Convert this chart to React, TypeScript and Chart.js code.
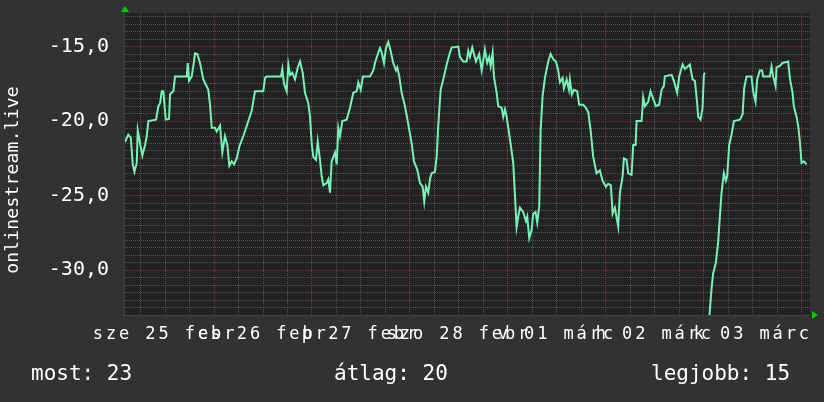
import React, { useEffect, useRef } from "react";
import { Chart, registerables } from "chart.js";

Chart.register(...registerables);

// hours since "sze 25 febr" 00:00
const sampleHours: number[] = [
  2.2, 3.0, 3.6, 4.1, 4.5, 5.07, 5.31, 5.88, 6.44, 7.1,
  7.52, 7.91, 9.8, 10.36, 10.78, 11.19, 11.58, 12.17, 12.98, 13.22,
  14.03, 14.45, 17.31, 17.56, 17.88, 18.54, 18.93, 19.35, 19.91, 20.57,
  21.38, 22.6, 23.02, 23.44, 24.24, 24.66, 25.47, 26.03, 26.69, 27.26,
  27.75, 28.33, 28.9, 29.56, 30.2, 31.18, 32.4, 33.23, 34.04, 36.07,
  36.49, 36.91, 40.41, 40.73, 41.14, 41.8, 42.2, 42.61, 43.18, 43.84,
  44.5, 45.06, 45.72, 46.29, 47.09, 47.51, 47.93, 48.32, 48.98, 49.4,
  49.96, 50.37, 50.77, 51.6, 51.99, 52.41, 52.82, 53.63, 54.05, 54.44,
  54.86, 55.42, 56.5, 57.31, 58.11, 58.95, 59.34, 59.93, 60.49, 62.2,
  63.01, 63.43, 64.24, 64.65, 65.07, 65.63, 66.12, 66.69, 67.27, 67.91,
  68.57, 68.89, 69.38, 69.97, 70.78, 71.58, 72.42, 72.98, 73.79, 74.45,
  75.11, 75.5, 75.92, 76.48, 76.9, 77.31, 78.12, 78.54, 78.93, 79.52,
  80.33, 80.99, 81.8, 82.21, 83.83, 84.24, 85.05, 85.88, 86.28, 86.69,
  87.26, 88.16, 88.97, 89.56, 90.37, 90.93, 91.42, 91.76, 92.25, 92.57,
  93.23, 93.63, 94.46, 94.85, 95.27, 95.68, 96.49, 97.3, 98.13, 98.52,
  98.94, 99.75, 100.41, 100.73, 101.22, 101.8, 102.2, 102.78, 103.18, 103.67,
  104.01, 104.5, 105.06, 105.87, 106.46, 107.09, 107.76, 108.32, 108.73, 109.4,
  109.71, 110.37, 110.94, 111.18, 111.67, 112.16, 112.97, 113.46, 114.44, 115.1,
  115.67, 116.25, 116.89, 117.72, 118.53, 119.19, 120.0, 120.56, 121.22, 121.64,
  122.2, 123.01, 123.43, 124.09, 124.41, 125.07, 125.46, 126.29, 126.69, 127.27,
  127.52, 128.74, 129.13, 129.55, 130.36, 130.94, 131.58, 132.24, 133.05, 133.64,
  134.2, 134.45, 136.09, 136.65, 137.46, 137.95, 138.78, 139.35, 140.16, 140.57,
  141.23, 141.8, 142.36, 142.6, 143.19, 143.68, 144.0, 144.24, 144.6, 145.1,
  145.89, 146.28, 146.94, 147.5, 147.92, 148.33, 148.9, 149.39, 149.71, 150.2,
  150.78, 151.35, 152.82, 153.48, 153.87, 154.45, 155.67, 156.07, 156.66, 157.05,
  157.71, 158.28, 158.52, 160.16, 160.58, 160.97, 161.56, 161.8, 162.61, 163.27,
  164.65, 165.06, 165.72, 166.04, 166.7, 167.1, 167.51, 167.93, 168.49, 169.15,
];

const sampleValues: (number | null)[] = [
  -21.4, -20.9, -21.1, -22.9, -23.4, -22.8, -20.6, -21.5, -22.3, -21.6,
  -21.0, -20.0, -19.9, -19.0, -18.8, -18.0, -18.0, -19.9, -19.85, -18.2,
  -18.0, -17.0, -17.0, -16.1, -17.3, -17.0, -16.3, -15.45, -15.5, -16.1,
  -17.2, -17.9, -18.9, -20.45, -20.45, -20.7, -20.3, -22.1, -21.0, -21.6,
  -23.0, -22.7, -22.9, -22.5, -21.7, -21.0, -20.0, -19.3, -18.0, -18.0,
  -17.1, -17.0, -17.0, -16.5, -17.5, -18.0, -16.2, -16.9, -16.75, -17.2,
  -16.4, -16.0, -16.75, -18.1, -18.8, -19.7, -21.5, -22.4, -22.6, -21.35,
  -22.6, -23.7, -24.3, -24.15, -23.9, -24.8, -22.7, -22.1, -22.9, -20.45,
  -21.0, -20.0, -19.9, -19.1, -18.1, -18.0, -17.4, -17.9, -17.0, -17.0,
  -16.6, -16.1, -15.4, -15.1, -15.4, -16.1, -15.1, -14.7, -15.3, -16.1,
  -16.6, -16.4, -17.0, -18.1, -19.0, -20.2, -21.5, -22.7, -23.25, -24.15,
  -24.4, -25.4, -24.4, -24.8, -23.9, -23.5, -23.4, -22.4, -20.3, -17.9,
  -17.0, -16.2, -15.4, -15.07, -15.0, -15.7, -16.0, -16.0, -15.3, -15.7,
  -15.07, -16.0, -15.5, -16.6, -15.2, -16.1, -15.7, -16.3, -15.4, -17.0,
  -18.1, -19.0, -19.1, -19.7, -19.2, -19.7, -21.2, -22.8, -27.1, -26.4,
  -25.8, -26.1, -26.7, -26.4, -27.85, -27.3, -26.2, -26.1, -26.8, -25.7,
  -20.6, -18.3, -17.1, -16.0, -15.5, -15.85, -16.0, -16.6, -17.4, -17.1,
  -17.8, -17.2, -17.9, -17.2, -18.2, -17.9, -18.0, -18.9, -18.9, -19.1,
  -19.4, -20.6, -22.4, -23.5, -23.3, -24.0, -24.4, -24.2, -24.3, -26.2,
  -25.8, -27.07, -24.8, -23.7, -22.5, -22.6, -23.5, -23.6, -21.6, -21.6,
  -20.0, -20.0, -18.4, -19.0, -18.7, -18.0, -18.5, -19.0, -18.9, -17.9,
  -17.65, -17.0, -16.9, -17.3, -18.1, -17.0, -16.2, -16.5, -16.3, -16.2,
  -17.2, -17.3, -18.8, -19.7, -19.9, -19.1, -16.9, -16.75, null, -34.0,
  -31.2, -30.2, -29.5, -28.1, -26.4, -24.8, -23.5, -24.0, -23.7, -21.6,
  -20.9, -20.0, -19.9, -19.55, -17.8, -17.0, -17.0, -18.0, -18.7, -17.2,
  -16.6, -16.6, -17.0, -17.0, -16.35, -17.0, -17.65, -16.4, -16.3, -16.1,
  -16.0, -17.1, -18.1, -19.0, -19.7, -20.3, -21.35, -22.8, -22.7, -22.9,
];

const dayLabels: string[] = [
  "sze 25 febr",
  "cs 26 febr",
  "p 27 febr",
  "szo 28 febr",
  "v 01 márc",
  "h 02 márc",
  "k 03 márc",
];

const xRange = { min: 1.7, max: 170 };
const yRange = { min: -33, max: -12.75 };
const xGridStepHours = 6;
const yGridStep = 0.5;
const yLabelStep = 5;

const axisTitle = "onlinestream.live";
const legendTexts: string[] = ["most: 23", "átlag: 20", "legjobb: 15"];

const FONT = "'DejaVu Sans Mono', monospace";
const OUTER_BG = "#323232";
const PLOT_BG = "#222222";
const MAJOR = "#7a3838";
const MINOR = "#555555";
const LINE = "#78f0b6";
const ARROW = "#00cc00";

const xGrid: number[] = [];
for (let h = xGridStepHours; h < xRange.max; h += xGridStepHours) xGrid.push(h);
const yGrid: number[] = [];
for (let v = yRange.min; v < yRange.max - 1e-9; v += yGridStep) yGrid.push(Math.round(v * 10) / 10);

const rrdPlugin = {
  id: "rrdDecor",
  beforeDraw(chart: any) {
    const { ctx, chartArea: a } = chart;
    ctx.save();
    ctx.fillStyle = OUTER_BG;
    ctx.fillRect(0, 0, chart.width, chart.height);
    ctx.fillStyle = PLOT_BG;
    ctx.fillRect(a.left, a.top, a.right - a.left, a.bottom - a.top);
    ctx.restore();
  },
  afterDatasetsDraw(chart: any) {
    // x tick labels are drawn after this (z: 1) with wide spacing
    chart.ctx.letterSpacing = "2.9px";
  },
  afterDraw(chart: any) {
    const { ctx, chartArea: a } = chart;
    ctx.letterSpacing = "0px";
    ctx.save();
    // axis line
    ctx.strokeStyle = "#3a3a3a";
    ctx.lineWidth = 2;
    ctx.beginPath();
    ctx.moveTo(a.left + 1, a.top);
    ctx.lineTo(a.left + 1, a.bottom);
    ctx.stroke();
    // arrows
    ctx.fillStyle = ARROW;
    ctx.beginPath();
    ctx.moveTo(a.left + 2, a.top - 7);
    ctx.lineTo(a.left - 2, a.top - 1);
    ctx.lineTo(a.left + 6, a.top - 1);
    ctx.closePath();
    ctx.fill();
    ctx.beginPath();
    ctx.moveTo(a.right + 8, a.bottom);
    ctx.lineTo(a.right + 2, a.bottom - 4);
    ctx.lineTo(a.right + 2, a.bottom + 4);
    ctx.closePath();
    ctx.fill();
    // vertical axis title
    ctx.fillStyle = "#ffffff";
    ctx.font = `18px ${FONT}`;
    ctx.letterSpacing = "0.2px";
    ctx.textAlign = "center";
    ctx.textBaseline = "middle";
    ctx.translate(13, 180);
    ctx.rotate(-Math.PI / 2);
    ctx.fillText(axisTitle, 0, 0);
    ctx.restore();
    // legend line
    ctx.save();
    ctx.letterSpacing = "0px";
    ctx.fillStyle = "#ffffff";
    ctx.font = `21px ${FONT}`;
    ctx.textBaseline = "middle";
    ctx.textAlign = "left";
    const xs = [31, 334, 651];
    legendTexts.forEach((t, i) => ctx.fillText(t, xs[i], 375));
    ctx.restore();
    ctx.letterSpacing = "0px";
  },
};

export default function App() {
  const ref = useRef<HTMLCanvasElement | null>(null);

  useEffect(() => {
    if (!ref.current) return;
    const points = sampleHours.map((h, i) => ({ x: h, y: sampleValues[i] }));
    const chart = new Chart(ref.current, {
      type: "line",
      data: {
        datasets: [
          {
            data: points as any,
            borderColor: LINE,
            borderWidth: 2,
            pointRadius: 0,
            tension: 0,
            spanGaps: false,
            fill: false,
          },
        ],
      },
      options: {
        responsive: false,
        devicePixelRatio: 1,
        animation: false,
        events: [],
        layout: { padding: { top: 13, right: 14, left: 0, bottom: 0 } },
        plugins: { legend: { display: false }, tooltip: { enabled: false } },
        scales: {
          x: {
            type: "linear",
            min: xRange.min,
            max: xRange.max,
            bounds: "data",
            afterBuildTicks: (s: any) => {
              s.ticks = xGrid.map((v) => ({ value: v }));
            },
            afterFit: (s: any) => {
              s.height = 87;
              s.paddingLeft = 0;
              s.paddingRight = 0;
              s.paddingTop = 0;
              s.paddingBottom = 0;
            },
            grid: {
              color: (c: any) => (c.tick && c.tick.value % 24 === 0 ? MAJOR : MINOR),
              drawTicks: false,
              lineWidth: 1,
            },
            border: { display: false, dash: [1, 1] },
            ticks: {
              autoSkip: false,
              maxRotation: 0,
              minRotation: 0,
              padding: 9,
              color: "#ffffff",
              z: 1,
              font: { family: FONT, size: 17 },
              callback: (v: any) => {
                const n = Number(v);
                if (n % 24 === 12) return dayLabels[(n - 12) / 24] ?? "";
                return "";
              },
            },
          },
          y: {
            type: "linear",
            min: yRange.min,
            max: yRange.max,
            bounds: "data",
            afterBuildTicks: (s: any) => {
              s.ticks = yGrid.map((v) => ({ value: v }));
            },
            afterFit: (s: any) => {
              s.width = 123;
              s.paddingLeft = 0;
              s.paddingRight = 0;
              s.paddingTop = 0;
              s.paddingBottom = 0;
            },
            grid: {
              color: (c: any) =>
                c.tick && Math.abs(c.tick.value % yLabelStep) < 1e-9 ? MAJOR : MINOR,
              drawTicks: false,
              lineWidth: 1,
            },
            border: { display: false, dash: [1, 1] },
            ticks: {
              autoSkip: false,
              padding: 14,
              color: "#ffffff",
              font: { family: FONT, size: 20 },
              callback: (v: any) => {
                const n = Number(v);
                if (Math.abs(n % yLabelStep) < 1e-9) return n.toFixed(1).replace(".", ",");
                return "";
              },
            },
          },
        },
      },
      plugins: [rrdPlugin],
    });
    return () => chart.destroy();
  }, []);

  return (
    <div
      style={{
        position: "fixed",
        left: 0,
        top: 0,
        width: 824,
        height: 402,
        background: OUTER_BG,
      }}
    >
      <canvas ref={ref} width={824} height={402} style={{ display: "block" }} />
    </div>
  );
}
